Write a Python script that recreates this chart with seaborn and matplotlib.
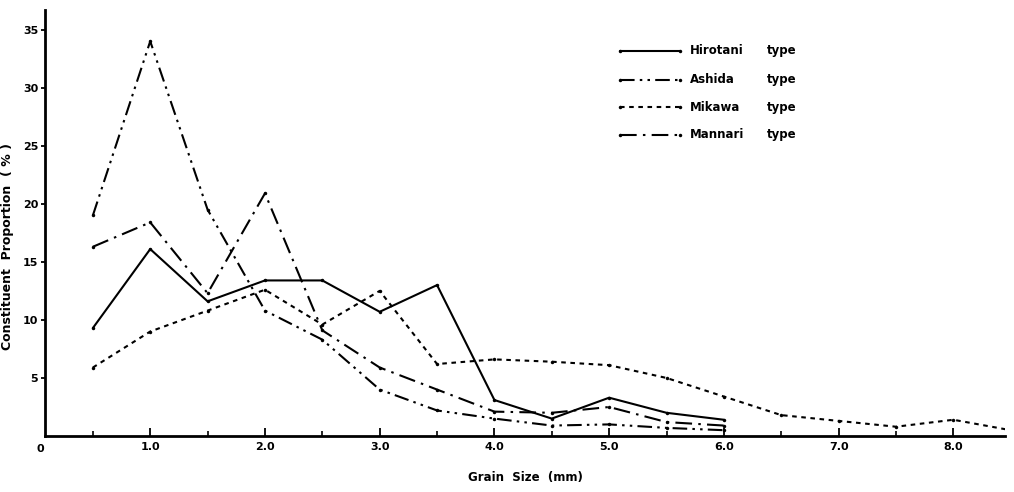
import numpy as np
import pandas as pd
import matplotlib
matplotlib.use("Agg")
import matplotlib.pyplot as plt
import seaborn as sns

# ---------------------------------------------------------
# Data
# ---------------------------------------------------------
grain_short = [0.5, 1.0, 1.5, 2.0, 2.5, 3.0, 3.5, 4.0, 4.5, 5.0, 5.5, 6.0]
grain_long = [0.5, 1.0, 1.5, 2.0, 2.5, 3.0, 3.5, 4.0, 4.5, 5.0, 5.5, 6.0,
              6.5, 7.0, 7.5, 8.0, 8.5]

hirotani = [9.3, 16.1, 11.6, 13.4, 13.4, 10.7, 13.0, 3.1, 1.5, 3.3, 2.0, 1.4]
ashida = [19.0, 34.0, 19.5, 10.8, 8.3, 4.0, 2.2, 1.5, 0.9, 1.0, 0.7, 0.5]
mikawa = [5.9, 9.0, 10.8, 12.6, 9.6, 12.5, 6.2, 6.6, 6.4, 6.1, 5.0, 3.4,
          1.8, 1.3, 0.8, 1.4, 0.5]
mannari = [16.3, 18.4, 12.3, 20.9, 9.1, 5.9, 4.0, 2.1, 2.0, 2.5, 1.2, 0.9]

series_names = ["Hirotani", "Ashida", "Mikawa", "Mannari"]
x_ticks = [1.0, 2.0, 3.0, 4.0, 5.0, 6.0, 7.0, 8.0]
y_ticks = [5, 10, 15, 20, 25, 30, 35]

# ---------------------------------------------------------
# Style
# ---------------------------------------------------------
sns.set_style("ticks")
plt.rcParams["font.family"] = ["DejaVu Sans"]
plt.rcParams["font.weight"] = "bold"
for key in ["text.color", "axes.labelcolor", "xtick.color", "ytick.color",
            "axes.edgecolor"]:
    plt.rcParams[key] = "black"

styles = {
    "Hirotani": "-",
    "Ashida": (0, (7, 2.5, 1.2, 2.5, 1.2, 2.5)),
    "Mikawa": (0, (2.2, 2.2)),
    "Mannari": (0, (8, 3, 1.2, 3)),
}

fig = plt.figure(figsize=(10.14, 4.92), dpi=100)
ax = fig.add_axes([0.0444, 0.1138, 0.9467, 0.866])

data = {
    "Hirotani": (grain_short, hirotani),
    "Ashida": (grain_short, ashida),
    "Mikawa": (grain_long, mikawa),
    "Mannari": (grain_short, mannari),
}

for name in series_names:
    xs, ys = data[name]
    df = pd.DataFrame({"size": xs, "prop": ys})
    sns.lineplot(data=df, x="size", y="prop", ax=ax, color="black",
                 linewidth=1.5, linestyle=styles[name], marker="o",
                 markersize=2.5, markeredgewidth=0, estimator=None, sort=False)

ax.set_xlim(0.083, 8.45)
ax.set_ylim(0, 36.7)
sns.despine(ax=ax)
for side in ["left", "bottom"]:
    ax.spines[side].set_linewidth(2)

ax.set_xticks(x_ticks)
ax.set_xticklabels([f"{v:.1f}" for v in x_ticks])
ax.set_xticks(np.arange(0.5, 8.5, 1.0), minor=True)
ax.tick_params(axis="x", which="major", direction="in", length=6, width=1.3,
               labelsize=8, pad=4)
ax.tick_params(axis="x", which="minor", direction="in", length=3.5, width=1.2)
ax.set_yticks(y_ticks)
ax.tick_params(axis="y", direction="out", length=3, width=1.3,
               labelsize=8, pad=2)
ax.text(-0.005, -0.018, "0", transform=ax.transAxes, ha="center", va="top",
        fontsize=8, fontweight="bold")

ax.set_xlabel("Grain  Size  (mm)", fontsize=8.5, fontweight="bold",
              labelpad=14)
ax.set_ylabel("Constituent  Proportion  ( % )", fontsize=9,
              fontweight="bold")
ax.yaxis.set_label_coords(-0.032, 0.444)

# legend drawn by hand so the "type" column lines up
row_y = [0.904, 0.836, 0.772, 0.707]
for name, yy in zip(series_names, row_y):
    ax.plot([0.599, 0.661], [yy, yy], transform=ax.transAxes, color="black",
            linewidth=1.5, linestyle=styles[name], marker="o", markersize=2.5,
            markeredgewidth=0)
    ax.text(0.672, yy, name, transform=ax.transAxes, va="center",
            fontsize=8.5, fontweight="bold")
    ax.text(0.752, yy, "type", transform=ax.transAxes, va="center",
            fontsize=8.5, fontweight="bold")

fig.savefig("out.png", dpi=100)
